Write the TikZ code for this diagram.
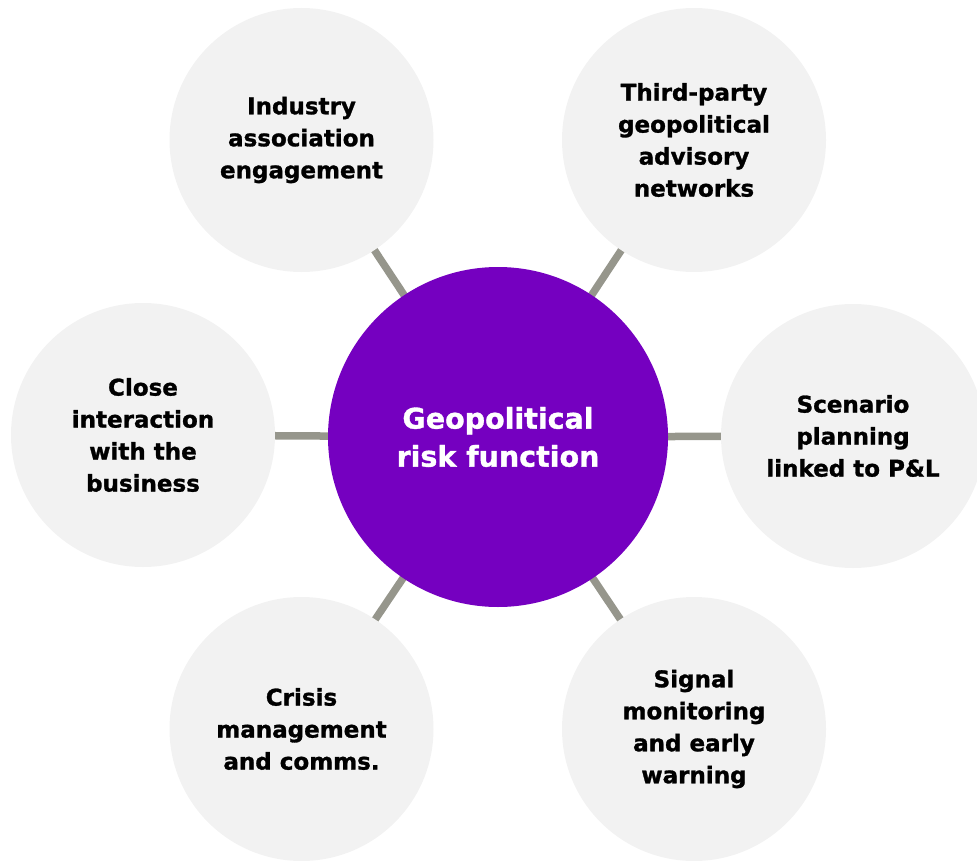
\documentclass[tikz,border=0pt]{standalone}
\usepackage{fontspec}
\setmainfont{DejaVu Sans}[BoldFeatures={FakeBold=1.2}]
\usetikzlibrary{backgrounds}
\definecolor{riskpurple}{HTML}{7500C0}
\definecolor{bubblegrey}{HTML}{F2F2F2}
\definecolor{linkgrey}{HTML}{96968C}
\newcommand{\bubbleSize}{264pt}
\newcommand{\hubSize}{340pt}

\begin{document}
\begin{tikzpicture}[x=1pt, y=-1pt,
		bubble/.style={circle, fill=bubblegrey, minimum size=\bubbleSize, inner sep=0pt, align=center,
			font=\bfseries\fontsize{23}{32}\selectfont},
		hub/.style={circle, fill=riskpurple, minimum size=\hubSize, inner sep=0pt, align=center,
			text=white, font=\bfseries\fontsize{28.5}{38}\selectfont},
		link/.style={draw=linkgrey, line width=7.5pt, shorten <=-4pt, shorten >=-4pt}]
		\useasboundingbox (0,0) rectangle (977,861);
		% centre
		\node[hub] (risk) at (498,437) {Geopolitical\\risk function};
		% ring of capabilities
		\node[bubble] (industry) at (301.5,140) {Industry\\association\\engagement};
		\node[bubble] (advisory) at (694,140) {Third-party\\geopolitical\\advisory\\networks};
		\node[bubble] (scenario) at (853,436) {Scenario\\planning\\linked to P\&L};
		\node[bubble] (signal) at (694,729) {Signal\\monitoring\\and early\\warning};
		\node[bubble] (crisis) at (301.5,729) {Crisis\\management\\and comms.};
		\node[bubble] (business) at (143,435) {Close\\interaction\\with the\\business};
		% spokes
		\begin{scope}[on background layer]
			\foreach \n in {industry, advisory, scenario, signal, crisis, business}
				\draw[link] (risk) -- (\n);
		\end{scope}
	\end{tikzpicture}
\end{document}
